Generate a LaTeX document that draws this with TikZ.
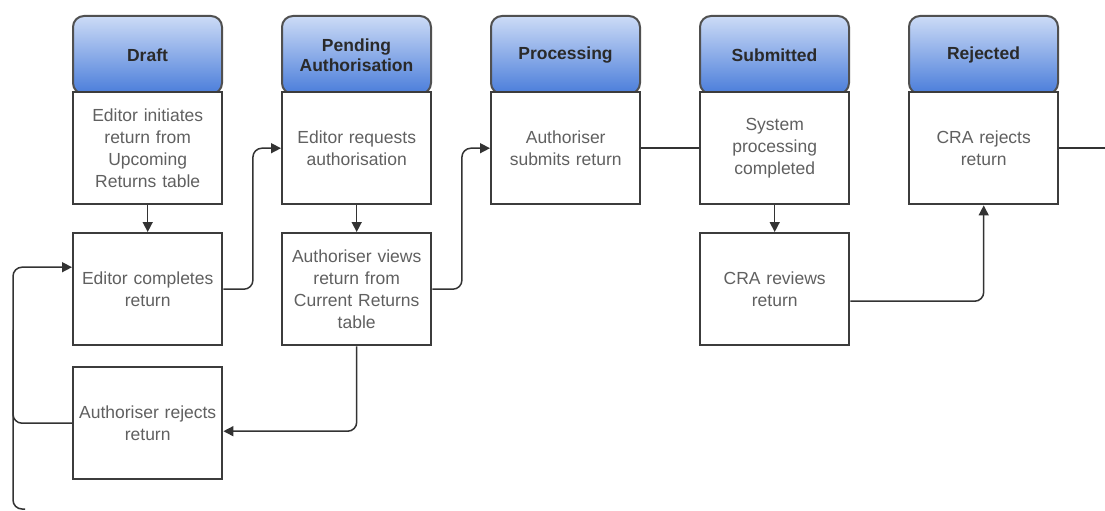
\documentclass[tikz,border=0pt]{standalone}
\usepackage{fontspec}
\setmainfont{Liberation Sans}
\usetikzlibrary{arrows.meta,calc}
\definecolor{txt}{HTML}{606060}
\definecolor{edge}{HTML}{3C3C3C}
\definecolor{hdedge}{HTML}{505050}
\definecolor{hdtop}{HTML}{CCDBF6}
\definecolor{hdbot}{HTML}{4A7DDA}
\definecolor{hdtxt}{HTML}{2A2A2A}
\definecolor{lnk}{HTML}{333333}
\begin{document}
\begin{tikzpicture}[x=1pt,y=-1pt,
  hdr/.style={draw=hdedge, line width=2pt, rounded corners=11pt, top color=hdtop, bottom color=hdbot,
    minimum width=149pt, minimum height=78pt, inner sep=0pt, align=center, anchor=north west,
    font=\fontsize{17.5}{20}\selectfont\bfseries, text=hdtxt},
  stepbox/.style={draw=edge, line width=2.4pt, fill=white, minimum width=149pt, minimum height=112pt,
    inner sep=0pt, text width=146pt, align=center, anchor=north west,
    font=\fontsize{17.5}{22}\selectfont, text=txt},
  conn/.style={draw=lnk, line width=1.5pt, rounded corners=9pt},
  arr/.style={-{Triangle[length=10pt,width=10pt]}}
]
\useasboundingbox (0,0) rectangle (1105,511);
\fill[white] (0,0) rectangle (1105,511);

\node[hdr] (h1) at (72,15)  {Draft};
\node[hdr] (h2) at (281,15) {Pending\\Authorisation};
\node[hdr] (h3) at (490,15) {Processing};
\node[hdr] (h4) at (699,15) {Submitted};
\node[hdr] (h5) at (908,15) {Rejected};

\node[stepbox] (a1) at (72,91)  {Editor initiates\\return from\\Upcoming\\Returns table};
\node[stepbox] (a2) at (72,232) {Editor completes\\return};
\node[stepbox] (a3) at (72,366) {Authoriser rejects\\return};
\node[stepbox] (b1) at (281,91) {Editor requests\\authorisation};
\node[stepbox] (b2) at (281,232) {Authoriser views\\return from\\Current Returns\\table};
\node[stepbox] (c1) at (490,91) {Authoriser\\submits return};
\node[stepbox] (d1) at (699,91) {System\\processing\\completed};
\node[stepbox] (d2) at (699,232) {CRA reviews\\return};
\node[stepbox] (e1) at (908,91) {CRA rejects\\return};

\coordinate (lx) at (13,0);
\coordinate (in2) at ($(a2.west)+(0,-22)$);
\coordinate (in3) at ($(a3.east)+(0,8)$);
\coordinate (out4) at ($(d2.east)+(0,12)$);
\coordinate (bl) at (25,509);
\coordinate (xr) at (1105,0);
\coordinate (mid) at (0,330);

\draw[conn,arr] (a1.south) -- (a2.north);
\draw[conn,arr] (a2.east) -- ++(29.5,0) |- (b1.west);
\draw[conn,arr] (b1.south) -- (b2.north);
\draw[conn,arr] (b2.east) -- ++(29.5,0) |- (c1.west);
\draw[conn,arr] (b2.south) |- (in3);
\draw[conn,arr] (a3.west) -- (a3.west -| lx) |- (in2);
\draw[conn] (bl) -| (mid -| lx);
\draw[conn] (c1.east) -- (d1.west);
\draw[conn,arr] (d1.south) -- (d2.north);
\draw[conn,arr] (out4) -| (e1.south);
\draw[conn] (e1.east) -- (e1.east -| xr);
\end{tikzpicture}
\end{document}
